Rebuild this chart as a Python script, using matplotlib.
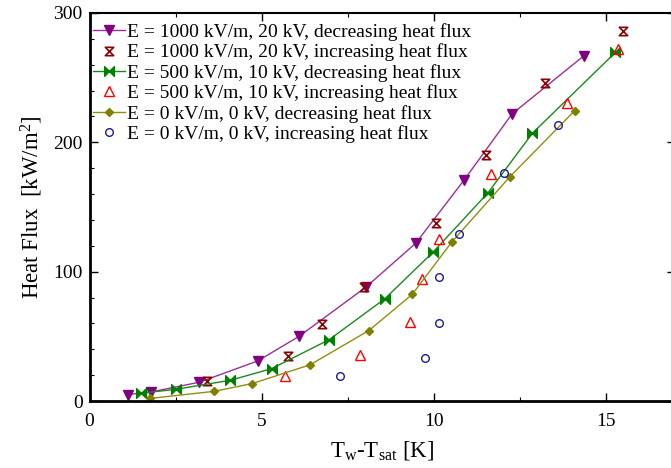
import numpy as np
import matplotlib
matplotlib.use("Agg")
import matplotlib.pyplot as plt
from matplotlib.path import Path
from matplotlib.ticker import MultipleLocator

plt.rcParams.update({
    "font.family": "serif",
    "font.serif": ["Liberation Serif", "DejaVu Serif"],
    "mathtext.fontset": "custom",
    "mathtext.rm": "Liberation Serif",
    "mathtext.it": "Liberation Serif:italic",
    "font.size": 14,
})

# ---- data ----
# E = 1000 kV/m, 20 kV
x_1000_dec = [1.11, 1.79, 3.19, 4.89, 6.09, 8.03, 9.48, 10.89, 12.28, 14.37]
y_1000_dec = [5.0, 7.0, 14.5, 31.0, 50.0, 88.0, 122.0, 171.0, 222.0, 267.0]
x_1000_inc = [3.42, 5.78, 6.77, 7.99, 10.06, 11.53, 13.24, 15.49]
y_1000_inc = [15.5, 34.5, 59.5, 88.0, 138.0, 190.5, 246.0, 286.0]
# E = 500 kV/m, 10 kV
x_500_dec = [1.50, 2.50, 4.09, 5.29, 6.97, 8.58, 9.98, 11.58, 12.87, 15.28]
y_500_dec = [6.0, 9.0, 16.0, 25.0, 47.5, 79.0, 115.0, 161.0, 207.0, 269.5]
x_500_inc = [5.67, 7.86, 9.30, 9.67, 10.17, 11.68, 13.89, 15.37]
y_500_inc = [19.5, 35.5, 61.0, 94.5, 125.5, 175.5, 230.5, 272.0]
# E = 0 kV/m, 0 kV
x_0_dec = [1.76, 3.63, 4.73, 6.41, 8.12, 9.38, 10.53, 12.22, 14.10]
y_0_dec = [2.0, 7.5, 13.5, 28.0, 54.5, 82.5, 123.0, 173.5, 224.5]
x_0_inc = [7.28, 9.75, 10.15, 10.17, 10.75, 12.04, 13.60]
y_0_inc = [19.5, 33.5, 60.5, 95.5, 129.0, 176.5, 213.5]

labels = [
    "E = 1000 kV/m, 20 kV, decreasing heat flux",
    "E = 1000 kV/m, 20 kV, increasing heat flux",
    "E = 500 kV/m, 10 kV, decreasing heat flux",
    "E = 500 kV/m, 10 kV, increasing heat flux",
    "E = 0 kV/m, 0 kV, decreasing heat flux",
    "E = 0 kV/m, 0 kV, increasing heat flux",
]

# custom markers
HOURGLASS = Path([(-1, 1), (1, 1), (-1, -1), (1, -1), (-1, 1)],
                 [Path.MOVETO, Path.LINETO, Path.LINETO, Path.LINETO, Path.CLOSEPOLY])
BOWTIE = Path([(-1, 1), (-1, -1), (1, 1), (1, -1), (-1, 1)],
              [Path.MOVETO, Path.LINETO, Path.LINETO, Path.LINETO, Path.CLOSEPOLY])

fig = plt.figure(figsize=(6.71, 4.68), dpi=100)
ax = fig.add_axes([89.5 / 671, 67 / 468, 585 / 671, 388 / 468])

ax.plot(x_1000_dec, y_1000_dec, color="#9b2f9b", lw=1.0, marker="v", ms=7,
        mfc="#800080", mec="#800080", label=labels[0])
ax.plot(x_1000_inc, y_1000_inc, ls="none", marker=HOURGLASS, ms=6,
        mfc="none", mec="#8b0000", mew=1.2, label=labels[1])
ax.plot(x_500_dec, y_500_dec, color="#1a8a1a", lw=1.0, marker=BOWTIE, ms=7,
        mfc="#008000", mec="#008000", label=labels[2])
ax.plot(x_500_inc, y_500_inc, ls="none", marker="^", ms=6.5,
        mfc="none", mec="#ff0000", mew=1.0, label=labels[3])
ax.plot(x_0_dec, y_0_dec, color="#8f8f10", lw=1.0, marker="D", ms=4.5,
        mfc="#808000", mec="#808000", label=labels[4])
ax.plot(x_0_inc, y_0_inc, ls="none", marker="o", ms=5.5,
        mfc="none", mec="#1a1a99", mew=1.0, label=labels[5])

ax.set_xlim(0, 17)
ax.set_ylim(0, 300)
ax.xaxis.set_major_locator(MultipleLocator(5))
ax.xaxis.set_minor_locator(MultipleLocator(2.5))
ax.yaxis.set_major_locator(MultipleLocator(100))
ax.yaxis.set_minor_locator(MultipleLocator(20))
ax.tick_params(which="both", direction="in", top=True, right=True, labelsize=14)
ax.tick_params(axis="x", which="major", length=6, width=1.0, pad=9)
ax.tick_params(axis="y", which="major", length=6, width=1.0, pad=5)
ax.tick_params(which="minor", length=3, width=0.8)

ax.spines["left"].set_linewidth(2.0)
ax.spines["bottom"].set_linewidth(2.0)
ax.spines["top"].set_linewidth(1.5)
ax.spines["right"].set_linewidth(1.5)

ax.set_xlabel(r"T$_\mathrm{w}$-T$_\mathrm{sat}$ [K]", fontsize=16.5, labelpad=6)
ax.set_ylabel(r"Heat Flux  [kW/m$^{2}$]", fontsize=16.5, labelpad=6)

ax.legend(loc="upper left", bbox_to_anchor=(0.006, 0.974), frameon=False,
          fontsize=14, handlelength=1.65, handletextpad=0.1,
          labelspacing=0.13, borderaxespad=0, borderpad=0)

fig.savefig("out.png", dpi=100)
